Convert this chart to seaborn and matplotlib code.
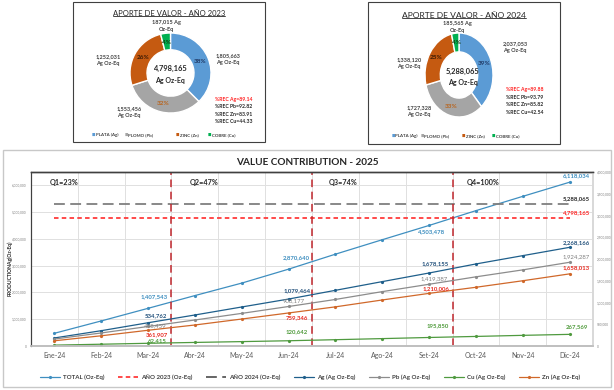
import numpy as np
import matplotlib
matplotlib.use('Agg')
import matplotlib.pyplot as plt
from matplotlib.lines import Line2D
from matplotlib.patches import Rectangle
from matplotlib.transforms import IdentityTransform
from matplotlib.ticker import FuncFormatter, MultipleLocator
import seaborn as sns

# ---- data: donuts (Ag Oz-Eq) ----
metals = ['PLATA (Ag)', 'PLOMO (Pb)', 'ZINC (Zn)', 'COBRE (Cu)']
values_2023 = [1805663, 1553456, 1252031, 187015]
values_2024 = [2037053, 1727328, 1338120, 185565]
rec_2023 = ['%REC Ag=89.14', '%REC Pb=92.82', '%REC Zn=83.91', '%REC Cu=44.33']
rec_2024 = ['%REC Ag=89.88', '%REC Pb=93.79', '%REC Zn=85.82', '%REC Cu=42.54']
total_2023 = 4798165
total_2024 = 5288065

# ---- data: monthly cumulative 2025 ----
months = ['Ene-24', 'Feb-24', 'Mar-24', 'Abr-24', 'May-24', 'Jun-24',
          'Jul-24', 'Ago-24', 'Set-24', 'Oct-24', 'Nov-24', 'Dic-24']
total = [475000, 936000, 1407543, 1884000, 2350000, 2870640,
         3430000, 3970000, 4503478, 5056000, 5590000, 6118034]
ag = [185000, 352000, 534762, 713000, 897000, 1079464,
      1280000, 1480000, 1678155, 1886000, 2077000, 2268166]
pb = [160000, 300000, 448459, 598000, 750000, 908177,
      1070000, 1250000, 1419387, 1590000, 1750000, 1924287]
cu = [20000, 41000, 62415, 82000, 101000, 120642,
      145000, 170000, 195850, 220000, 245000, 267569]
zn = [120000, 235000, 361907, 483000, 620000, 759346,
      900000, 1058000, 1210006, 1350000, 1500000, 1658013]
quarters = ['Q1=23%', 'Q2=47%', 'Q3=74%', 'Q4=100%']
labeled_months = [2, 5, 8, 11]

sns.set_theme(style='white')
plt.rcParams['font.family'] = ['Lato', 'DejaVu Sans']

W, H = 614, 390
fig = plt.figure(figsize=(W / 100, H / 100), dpi=100)
fig.patch.set_facecolor('white')


def px_axes(x0, y0, x1, y1):
    return fig.add_axes([x0 / W, 1 - y1 / H, (x1 - x0) / W, (y1 - y0) / H])


def ftext(x, y, s, **kw):
    return fig.text(x / W, 1 - y / H, s, **kw)


def frame(x0, y0, x1, y1, color, lw):
    fig.add_artist(Rectangle((x0 / W, 1 - y1 / H), (x1 - x0) / W, (y1 - y0) / H,
                             transform=fig.transFigure, fill=False,
                             edgecolor=color, linewidth=lw))


pie_colors = ['#5b9bd5', '#a5a5a5', '#c55a11', '#00b050']
pct_colors = ['#1f3864', '#b8651f', '#3a1a05', '#123d12']

# ---- donut panels ----
panels = [
    dict(box=(73, 2, 265, 142), donut=(130, 33, 211, 113), hole=0.42,
         vals=values_2023, rec=rec_2023, tot=total_2023, year='2023', title_y=13, tfs=5.5,
         out=[(228, 59), (129, 112), (108, 60), (166, 26)], rec_xy=(215, 99),
         rec_dy=7.5, ctr=(170, 68), leg_y=135, leg_x=[92, 125, 176, 208]),
    dict(box=(368, 2, 560, 144), donut=(425, 33, 493, 117), hole=0.45,
         vals=values_2024, rec=rec_2024, tot=total_2024, year='2024', title_y=15, tfs=6.1,
         out=[(515, 47), (419, 111), (409, 63), (457, 27)], rec_xy=(506, 90),
         rec_dy=7.5, ctr=(463, 71), leg_x=[392, 421, 462, 492], leg_y=136),
]

titles = []
for p in panels:
    frame(*p['box'], '#404040', 0.8)
    ax_p = px_axes(*p['donut'])
    wedges, _, autotexts = ax_p.pie(
        p['vals'], colors=pie_colors, startangle=90, counterclock=False,
        wedgeprops=dict(width=p['hole'], edgecolor='white', linewidth=1),
        autopct=lambda v: f'{v:.0f}%', pctdistance=0.78,
        textprops=dict(fontsize=4.6, fontweight='bold'))
    for t, c in zip(autotexts, pct_colors):
        t.set_color(c)
    ax_p.set_aspect('auto')
    ax_p.set_xlim(-1, 1)
    ax_p.set_ylim(-1, 1)
    ax_p.axis('off')

    cx = (p['box'][0] + p['box'][2]) / 2
    titles.append(ftext(cx, p['title_y'], f'APORTE DE VALOR - AÑO {p["year"]}',
                        ha='center', va='center', fontsize=p['tfs'], color='#262626'))
    ftext(p['ctr'][0], p['ctr'][1], f'{p["tot"]:,}', ha='center', va='center',
          fontsize=5.4, fontweight='bold', color='#262626')
    ftext(p['ctr'][0], p['ctr'][1] + 12, 'Ag Oz-Eq', ha='center', va='center',
          fontsize=5.0, fontweight='bold', color='#262626')
    for i, (v, (ox, oy)) in enumerate(zip(p['vals'], p['out'])):
        s = f'{v:,} Ag\nOz-Eq' if i == 3 else f'{v:,}\nAg Oz-Eq'
        ftext(ox, oy, s, ha='center', va='center', fontsize=4.0, fontweight='bold',
              color='#404040', linespacing=1.5)
    for i, r in enumerate(p['rec']):
        ftext(p['rec_xy'][0], p['rec_xy'][1] + i * p['rec_dy'], r, ha='left', va='center',
              fontsize=3.7, fontweight='bold', color='#ff2020' if i == 0 else '#262626')
    for name, col, lx in zip(metals, pie_colors, p['leg_x']):
        ftext(lx, p['leg_y'], '■', ha='left', va='center', fontsize=2.6, color=col,
              family=['DejaVu Sans'])
        ftext(lx + 3.5, p['leg_y'], name, ha='left', va='center', fontsize=3.2,
              fontweight='bold', color='#404040')

# ---- bottom chart ----
frame(3, 150, 611, 387, '#c8c8c8', 1.0)
ftext(307, 162, 'VALUE CONTRIBUTION - 2025', ha='center', va='center',
      fontsize=7.2, fontweight='bold', color='#262626')
ftext(10, 268, 'PRODUCTIONAg(Oz-Eq)', ha='center', va='center', rotation=90,
      fontsize=3.6, fontweight='bold', color='#262626')

ax = px_axes(31, 172, 593, 346)
ax2 = ax.twinx()
x = np.arange(len(months))

sns.lineplot(x=x, y=total, ax=ax, color='#3f8fc0', lw=0.9, marker='o', markersize=2.3,
             markeredgewidth=0, legend=False)
ax.hlines(total_2023, 0, 11, colors='#ff3b3b', linestyles=(0, (2.5, 1.8)), lw=1.3)
ax.hlines(total_2024, 0, 11, colors='#7f7f7f', linestyles=(0, (6, 3)), lw=1.3)

series = [('Ag (Ag Oz-Eq)', ag, '#1f5f8b', '#1f4e79', True),
          ('Pb (Ag Oz-Eq)', pb, '#8c8c8c', '#7f7f7f', False),
          ('Cu (Ag Oz-Eq)', cu, '#4f9a3f', '#4e9a3a', True),
          ('Zn (Ag Oz-Eq)', zn, '#d0682a', '#e8261c', True)]
for name, vals, col, _, _ in series:
    sns.lineplot(x=x, y=vals, ax=ax2, color=col, lw=0.9, marker='o', markersize=2.3,
                 markeredgewidth=0, legend=False)

# point labels (pixel offsets)
offsets = {
    'total': [(6, 12), (8, 11), (2, -6), (7, 7)],
    'Ag (Ag Oz-Eq)': [(8, 7), (9, 8), (6, 9), (7, 5)],
    'Pb (Ag Oz-Eq)': [(7, 1), (5, 6), (5, 6), (7, 6)],
    'Cu (Ag Oz-Eq)': [(9, 3), (8, 9), (9, 12), (7, 8)],
    'Zn (Ag Oz-Eq)': [(9, -4), (8, -5), (7, 5), (7, 6)],
}
for k, (dx, dy) in zip(labeled_months, offsets['total']):
    ax.annotate(f'{total[k]:,}', (x[k], total[k]), xytext=(dx, dy), textcoords='offset pixels',
                ha='center', va='center', fontsize=4.3, fontweight='bold', color='#3b8dbf')
for name, vals, _, tcol, bold in series:
    for k, (dx, dy) in zip(labeled_months, offsets[name]):
        ax2.annotate(f'{vals[k]:,}', (x[k], vals[k]), xytext=(dx, dy), textcoords='offset pixels',
                     ha='center', va='center', fontsize=4.3,
                     fontweight='bold' if bold else 'normal', color=tcol)
ax.annotate(f'{total_2024:,}', (11, total_2024), xytext=(7, 6), textcoords='offset pixels',
            ha='center', va='center', fontsize=4.3, fontweight='bold', color='#262626')
ax.annotate(f'{total_2023:,}', (11, total_2023), xytext=(7, 5), textcoords='offset pixels',
            ha='center', va='center', fontsize=4.3, fontweight='bold', color='#ff2020')

# quarter boundaries
for b in [2.5, 5.5, 8.5]:
    ax.axvline(b, color='#c0272d', lw=1.1, ls=(0, (5, 3)))
for q, qx in zip(quarters, [-0.1, 2.9, 5.85, 8.8]):
    ax.text(qx, 0.937, q, transform=ax.get_xaxis_transform(), ha='left', va='center',
            fontsize=5.2, fontweight='bold', color='#262626')

ax.set_xlim(-0.5, 11.5)
ax.set_ylim(0, 6.5e6)
ax2.set_ylim(0, 4e6)
ax.set_xticks(x)
ax.set_xticklabels(months, fontsize=5, color='#595959')
ax.set_xticks(np.arange(0.5, 11.5, 1), minor=True)
ax.yaxis.set_major_locator(MultipleLocator(1e6))
ax2.yaxis.set_major_locator(MultipleLocator(5e5))
fmt = FuncFormatter(lambda v, _: f'{v:,.0f}')
ax.yaxis.set_major_formatter(fmt)
ax2.yaxis.set_major_formatter(fmt)
ax.tick_params(axis='y', labelsize=2.3, labelcolor='#808080', length=0, pad=3)
ax2.tick_params(axis='y', labelsize=2.3, labelcolor='#808080', length=0, pad=3)
ax.tick_params(axis='x', which='both', length=0, pad=4)
ax.grid(True, axis='y', which='major', color='#e0e0e0', lw=0.7)
ax.grid(True, axis='x', which='minor', color='#e0e0e0', lw=0.7)
ax.set_axisbelow(True)
ax.set_ylabel('')
ax2.set_ylabel('')
for a in (ax, ax2):
    a.spines['top'].set_color('#404040')
    a.spines['top'].set_linewidth(1.0)
    a.spines['left'].set_color('#404040')
    a.spines['left'].set_linewidth(0.8)
    a.spines['bottom'].set_color('#bfbfbf')
    a.spines['right'].set_color('#d9d9d9')

handles = [Line2D([], [], color='#3f8fc0', lw=0.9, marker='o', markersize=2.3, markeredgewidth=0),
           Line2D([], [], color='#ff3b3b', lw=1.3, ls=(0, (2.5, 1.8))),
           Line2D([], [], color='#595959', lw=1.3, ls=(0, (6, 3)))]
labels = ['TOTAL (Oz-Eq)', 'AÑO 2023 (Oz-Eq)', 'AÑO 2024 (Oz-Eq)']
for name, _, col, _, _ in series:
    handles.append(Line2D([], [], color=col, lw=0.9, marker='o', markersize=2.3, markeredgewidth=0))
    labels.append(name)
leg = fig.legend(handles, labels, loc='center', bbox_to_anchor=(310 / W, 1 - 377 / H), ncol=7,
                 frameon=False, fontsize=4.4, handlelength=3.3, handletextpad=0.5,
                 columnspacing=2.2)
for t in leg.get_texts():
    t.set_fontweight('bold')
    t.set_color('#404040')

# underline donut titles
fig.canvas.draw()
for t in titles:
    bb = t.get_window_extent()
    fig.add_artist(Line2D([bb.x0, bb.x1], [bb.y0 + 0.5, bb.y0 + 0.5], transform=IdentityTransform(),
                          color='#262626', lw=0.6))

fig.savefig('out.png', dpi=100)
